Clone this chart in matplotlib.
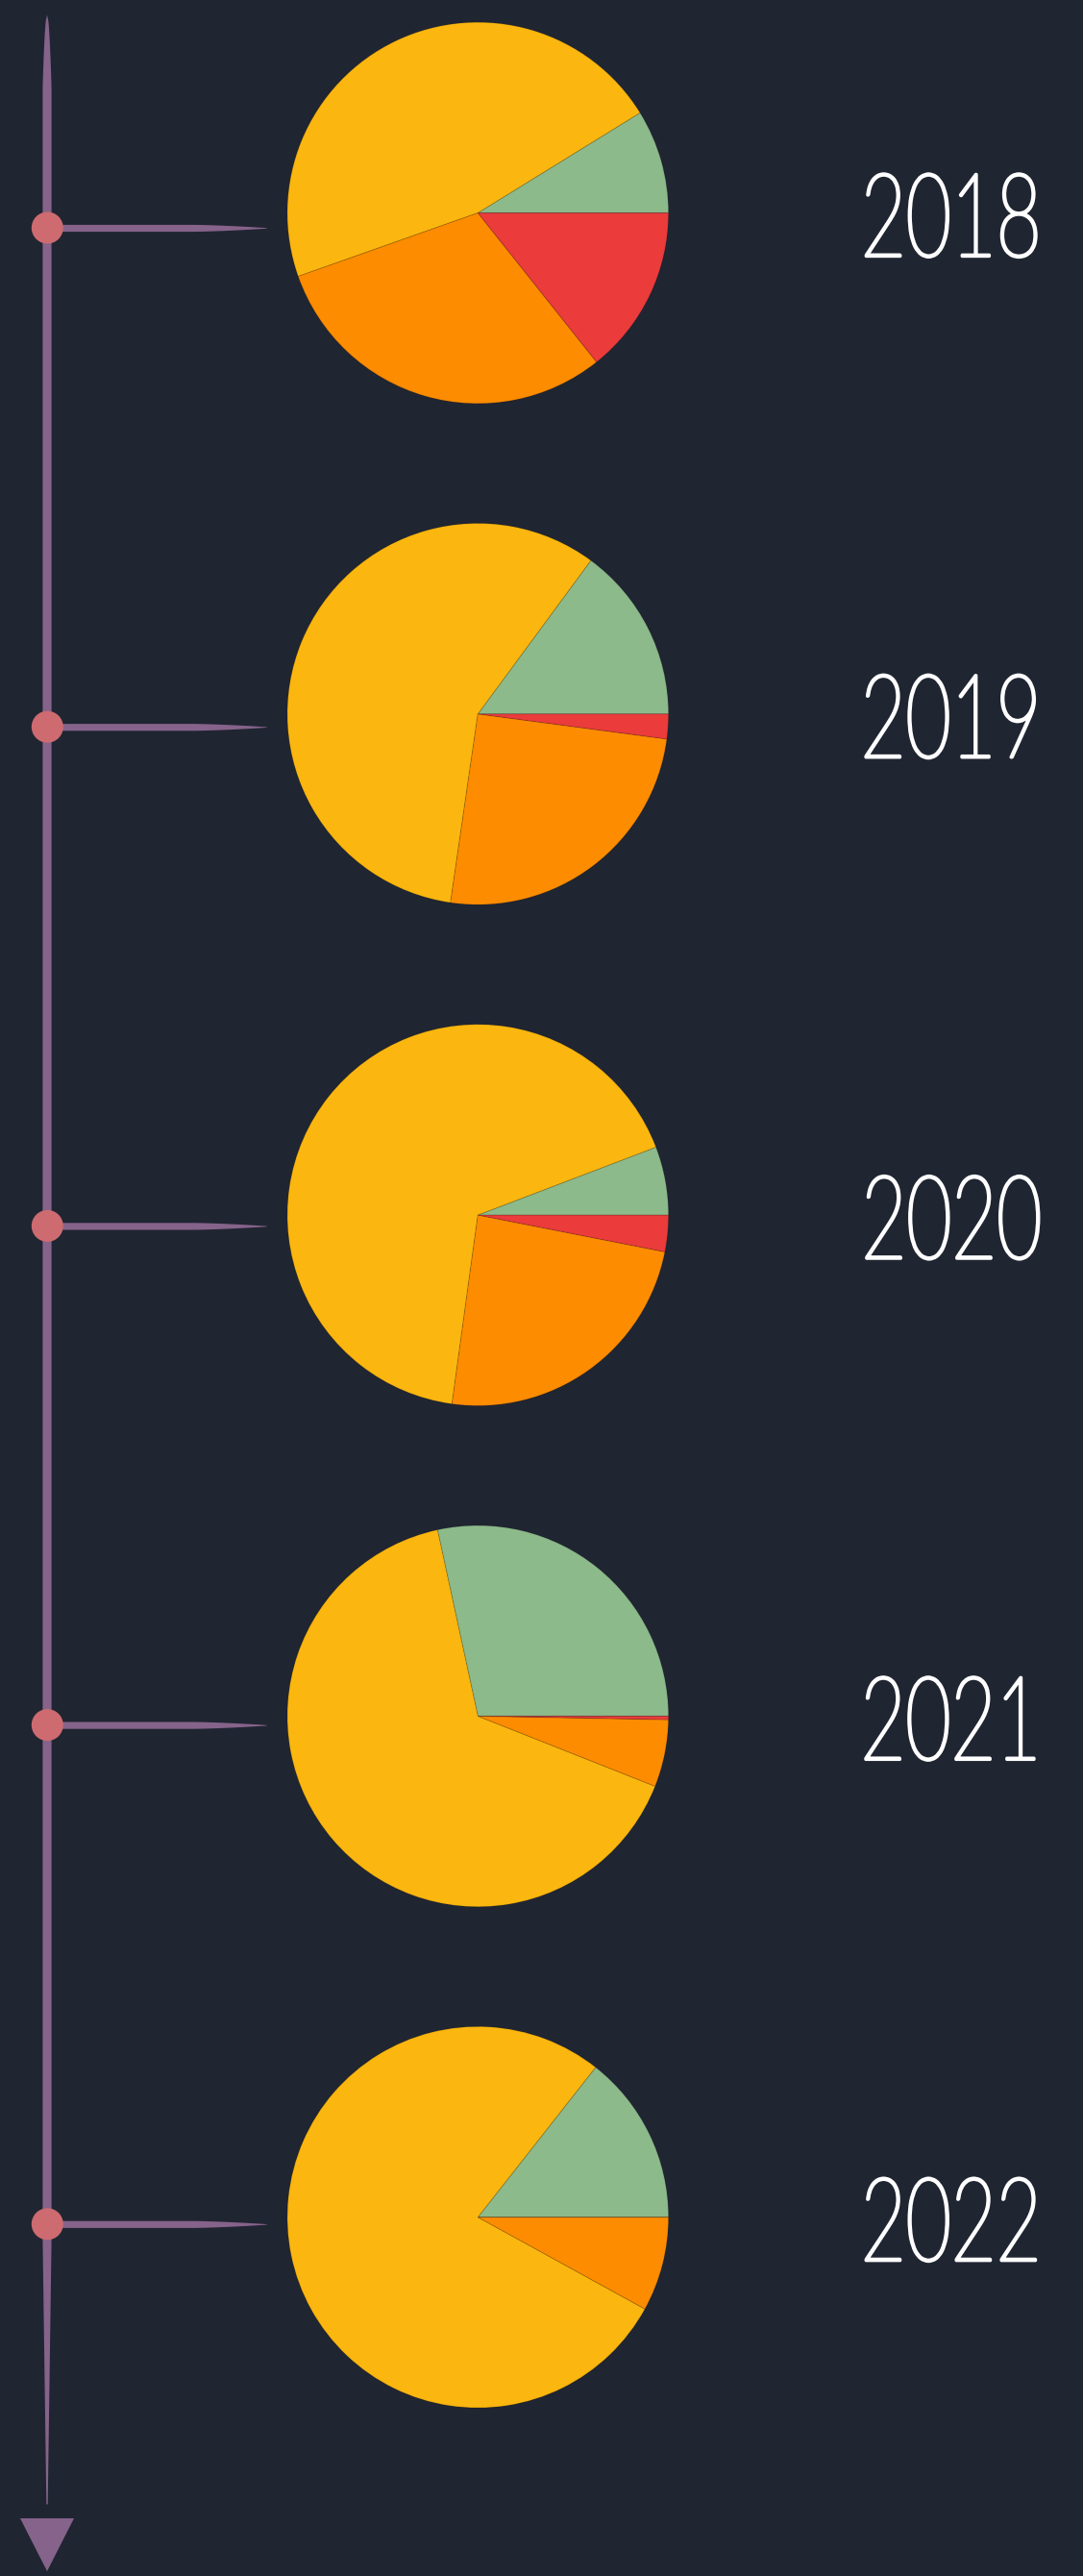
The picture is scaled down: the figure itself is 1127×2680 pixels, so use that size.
import numpy as np
import matplotlib
matplotlib.use('Agg')
import matplotlib.pyplot as plt
from matplotlib.patches import Circle, Polygon
from matplotlib import patheffects as pe
from matplotlib.transforms import Affine2D

years = ['2018', '2019', '2020', '2021', '2022']
# share of each slice per year (percent)
green = [8.8, 14.9, 5.8, 28.4, 14.4]
yellow = [46.6, 57.8, 67.1, 65.6, 77.6]
orange = [30.3, 25.2, 24.1, 5.7, 8.0]
red = [14.3, 2.1, 3.1, 0.3, 0.0]
colors = ['#8dba8a', '#fbb70f', '#fd8c00', '#eb3b3b']

W, H = 1127, 2680
bg = '#202532'
line_c = '#86638a'
dot_c = '#cd6b70'


class Narrow(pe.AbstractPathEffect):
    """squeeze the glyphs sideways and give them a round pen stroke"""
    def __init__(self, sx=0.67, lw=2.4):
        super().__init__()
        self.sx, self.lw = sx, lw

    def draw_path(self, renderer, gc, tpath, affine, rgbFace=None):
        box = tpath.get_extents(affine)
        mx = (box.x0 + box.x1) / 2
        affine = affine + Affine2D().translate(-mx, 0).scale(self.sx, 1).translate(mx, 0)
        gc0 = renderer.new_gc()
        gc0.copy_properties(gc)
        gc0.set_linewidth(self.lw)
        gc0.set_foreground(rgbFace)
        gc0.set_joinstyle('round')
        gc0.set_capstyle('round')
        renderer.draw_path(gc0, tpath, affine, rgbFace)
        gc0.restore()


fig = plt.figure(figsize=(W / 100, H / 100), dpi=100, facecolor=bg)
ax = fig.add_axes([0, 0, 1, 1])
ax.set_facecolor(bg)

pie_y0, pie_step = 221.5, 521.3
dot_y0, dot_step = 237, 519.2
cx, r = 497.3, 198.3
line_x = 48.5

# main timeline, brush-like: pointed top, thinning towards the arrow
ys = np.linspace(15, 2605, 400)
hw = np.full_like(ys, 4.6)
top = ys < 90
hw[top] = 4.6 * np.sqrt((ys[top] - 15) / 75)
bot = ys > 2330
hw[bot] = 4.6 - 3.9 * (ys[bot] - 2330) / 275
ax.fill_betweenx(ys, line_x - hw, line_x + hw, color=line_c, lw=0, zorder=2)
ax.add_patch(Polygon([[21, 2620], [77, 2620], [49, 2675]], closed=True,
                     color=line_c, lw=0, zorder=2))

for i, yr in enumerate(years):
    vals = [green[i], yellow[i], orange[i], red[i]]
    cy = pie_y0 + i * pie_step
    dy = dot_y0 + i * dot_step

    ax.pie(vals, colors=colors, center=(cx, cy), radius=r, startangle=0,
           counterclock=False, frame=True,
           wedgeprops=dict(edgecolor=(0, 0, 0, 0.12), linewidth=0.8))

    # branch from the dot towards the pie
    xs = np.linspace(line_x, 277, 200)
    bw = np.full_like(xs, 3.6)
    tip = xs > 200
    bw[tip] = 3.6 - 3.3 * ((xs[tip] - 200) / 77) ** 1.5
    ax.fill_between(xs, dy - bw, dy + bw, color=line_c, lw=0, zorder=2)
    ax.add_patch(Circle((49.3, dy), 16.5, color=dot_c, lw=0, zorder=3))

    ax.text(990, cy + 45, yr, ha='center', va='baseline', color='white',
            fontsize=87, family=['Lato', 'DejaVu Sans'], fontweight='light',
            path_effects=[Narrow()])

ax.set_xlim(0, W)
ax.set_ylim(H, 0)
ax.axis('off')

fig.savefig('out.png', dpi=100, facecolor=bg)
